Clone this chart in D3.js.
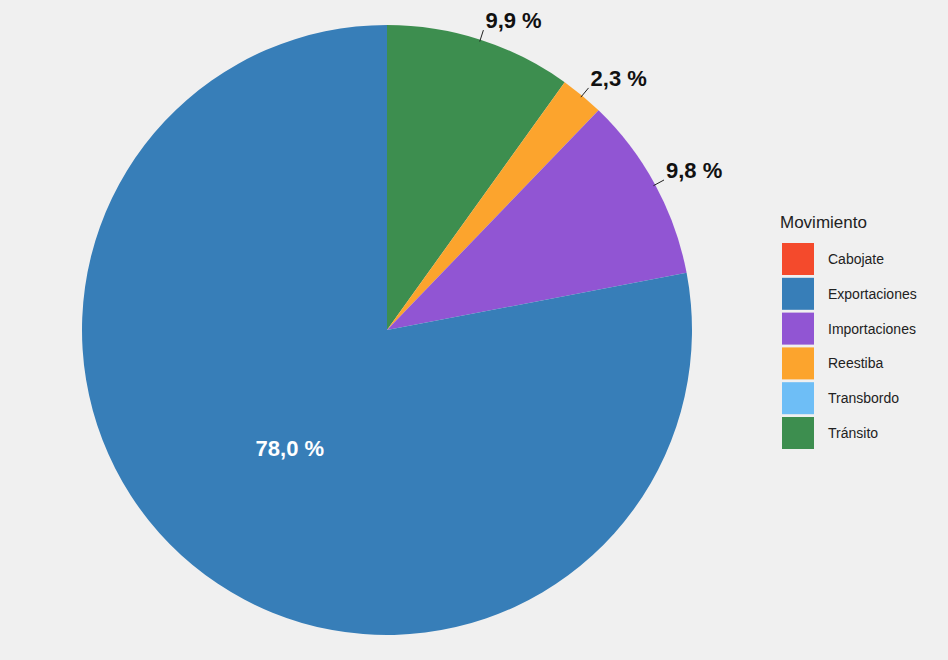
<!DOCTYPE html>
<html><head><meta charset="utf-8">
<script src="https://cdn.jsdelivr.net/npm/d3@7"></script>
<style>body{margin:0;background:#f0f0f0}svg{display:block;font-family:"Liberation Sans",Arial,sans-serif}</style>
</head><body><div id="chart"></div>
<script>
// legend order
const categories = ["Cabojate","Exportaciones","Importaciones","Reestiba","Transbordo","Tránsito"];
const values = [0, 78.0, 9.8, 2.3, 0, 9.9];
const labels = ["", "78,0 %", "9,8 %", "2,3 %", "", "9,9 %"];
const colors = ["#f44a2c","#377eb8","#9155d3","#fca42d","#6ebef6","#3d8e4f"];

const width = 948, height = 660;
const cx = 387, cy = 330, r = 305;

const svg = d3.select("#chart").append("svg")
    .attr("width", width).attr("height", height);
svg.append("rect").attr("width", width).attr("height", height).attr("fill", "#f0f0f0");

const color = d3.scaleOrdinal().domain(categories).range(colors);

// pie drawn clockwise from top, in reverse legend order
const data = categories.map((c, i) => ({cat: c, value: values[i], label: labels[i]})).reverse();
const arcs = d3.pie().sort(null).value(d => d.value)(data);
const arc = d3.arc().innerRadius(0).outerRadius(r);

const g = svg.append("g").attr("transform", `translate(${cx},${cy})`);
g.selectAll("path").data(arcs.filter(d => d.data.value > 0)).join("path")
    .attr("d", arc)
    .attr("fill", d => color(d.data.cat));

const mid = d => (d.startAngle + d.endAngle) / 2;
const pt = (a, rr) => [Math.sin(a) * rr, -Math.cos(a) * rr];

// outside labels for the small slices
const small = arcs.filter(d => d.data.value > 0 && d.data.value < 50);
small.forEach(d => {
    const a = mid(d);
    const p0 = pt(a, r - 2), p1 = pt(a, r + 10);
    g.append("line").attr("x1", p0[0]).attr("y1", p0[1]).attr("x2", p1[0]).attr("y2", p1[1])
        .attr("stroke", "#222").attr("stroke-width", 1);
    g.append("text").attr("x", p1[0] + 2).attr("y", p1[1] - 2)
        .attr("font-size", 22).attr("font-weight", "bold").attr("fill", "#111")
        .text(d.data.label);
});

// inside label for the big slice
arcs.filter(d => d.data.value >= 50).forEach(d => {
    const p = pt(mid(d), r / 2);
    g.append("text").attr("x", p[0]).attr("y", p[1] + 8).attr("text-anchor", "middle")
        .attr("font-size", 22).attr("font-weight", "bold").attr("fill", "white")
        .text(d.data.label);
});

// legend
const lg = svg.append("g").attr("transform", "translate(782,200)");
lg.append("text").attr("x", -2).attr("y", 28).attr("font-size", 17).attr("fill", "#222").text("Movimiento");
const item = lg.selectAll("g.item").data(categories).join("g")
    .attr("transform", (d, i) => `translate(0,${43 + i * 34.8})`);
item.append("rect").attr("width", 32).attr("height", 32).attr("fill", d => color(d));
item.append("text").attr("x", 46).attr("y", 21).attr("font-size", 14).attr("fill", "#222").text(d => d);
</script></body></html>
